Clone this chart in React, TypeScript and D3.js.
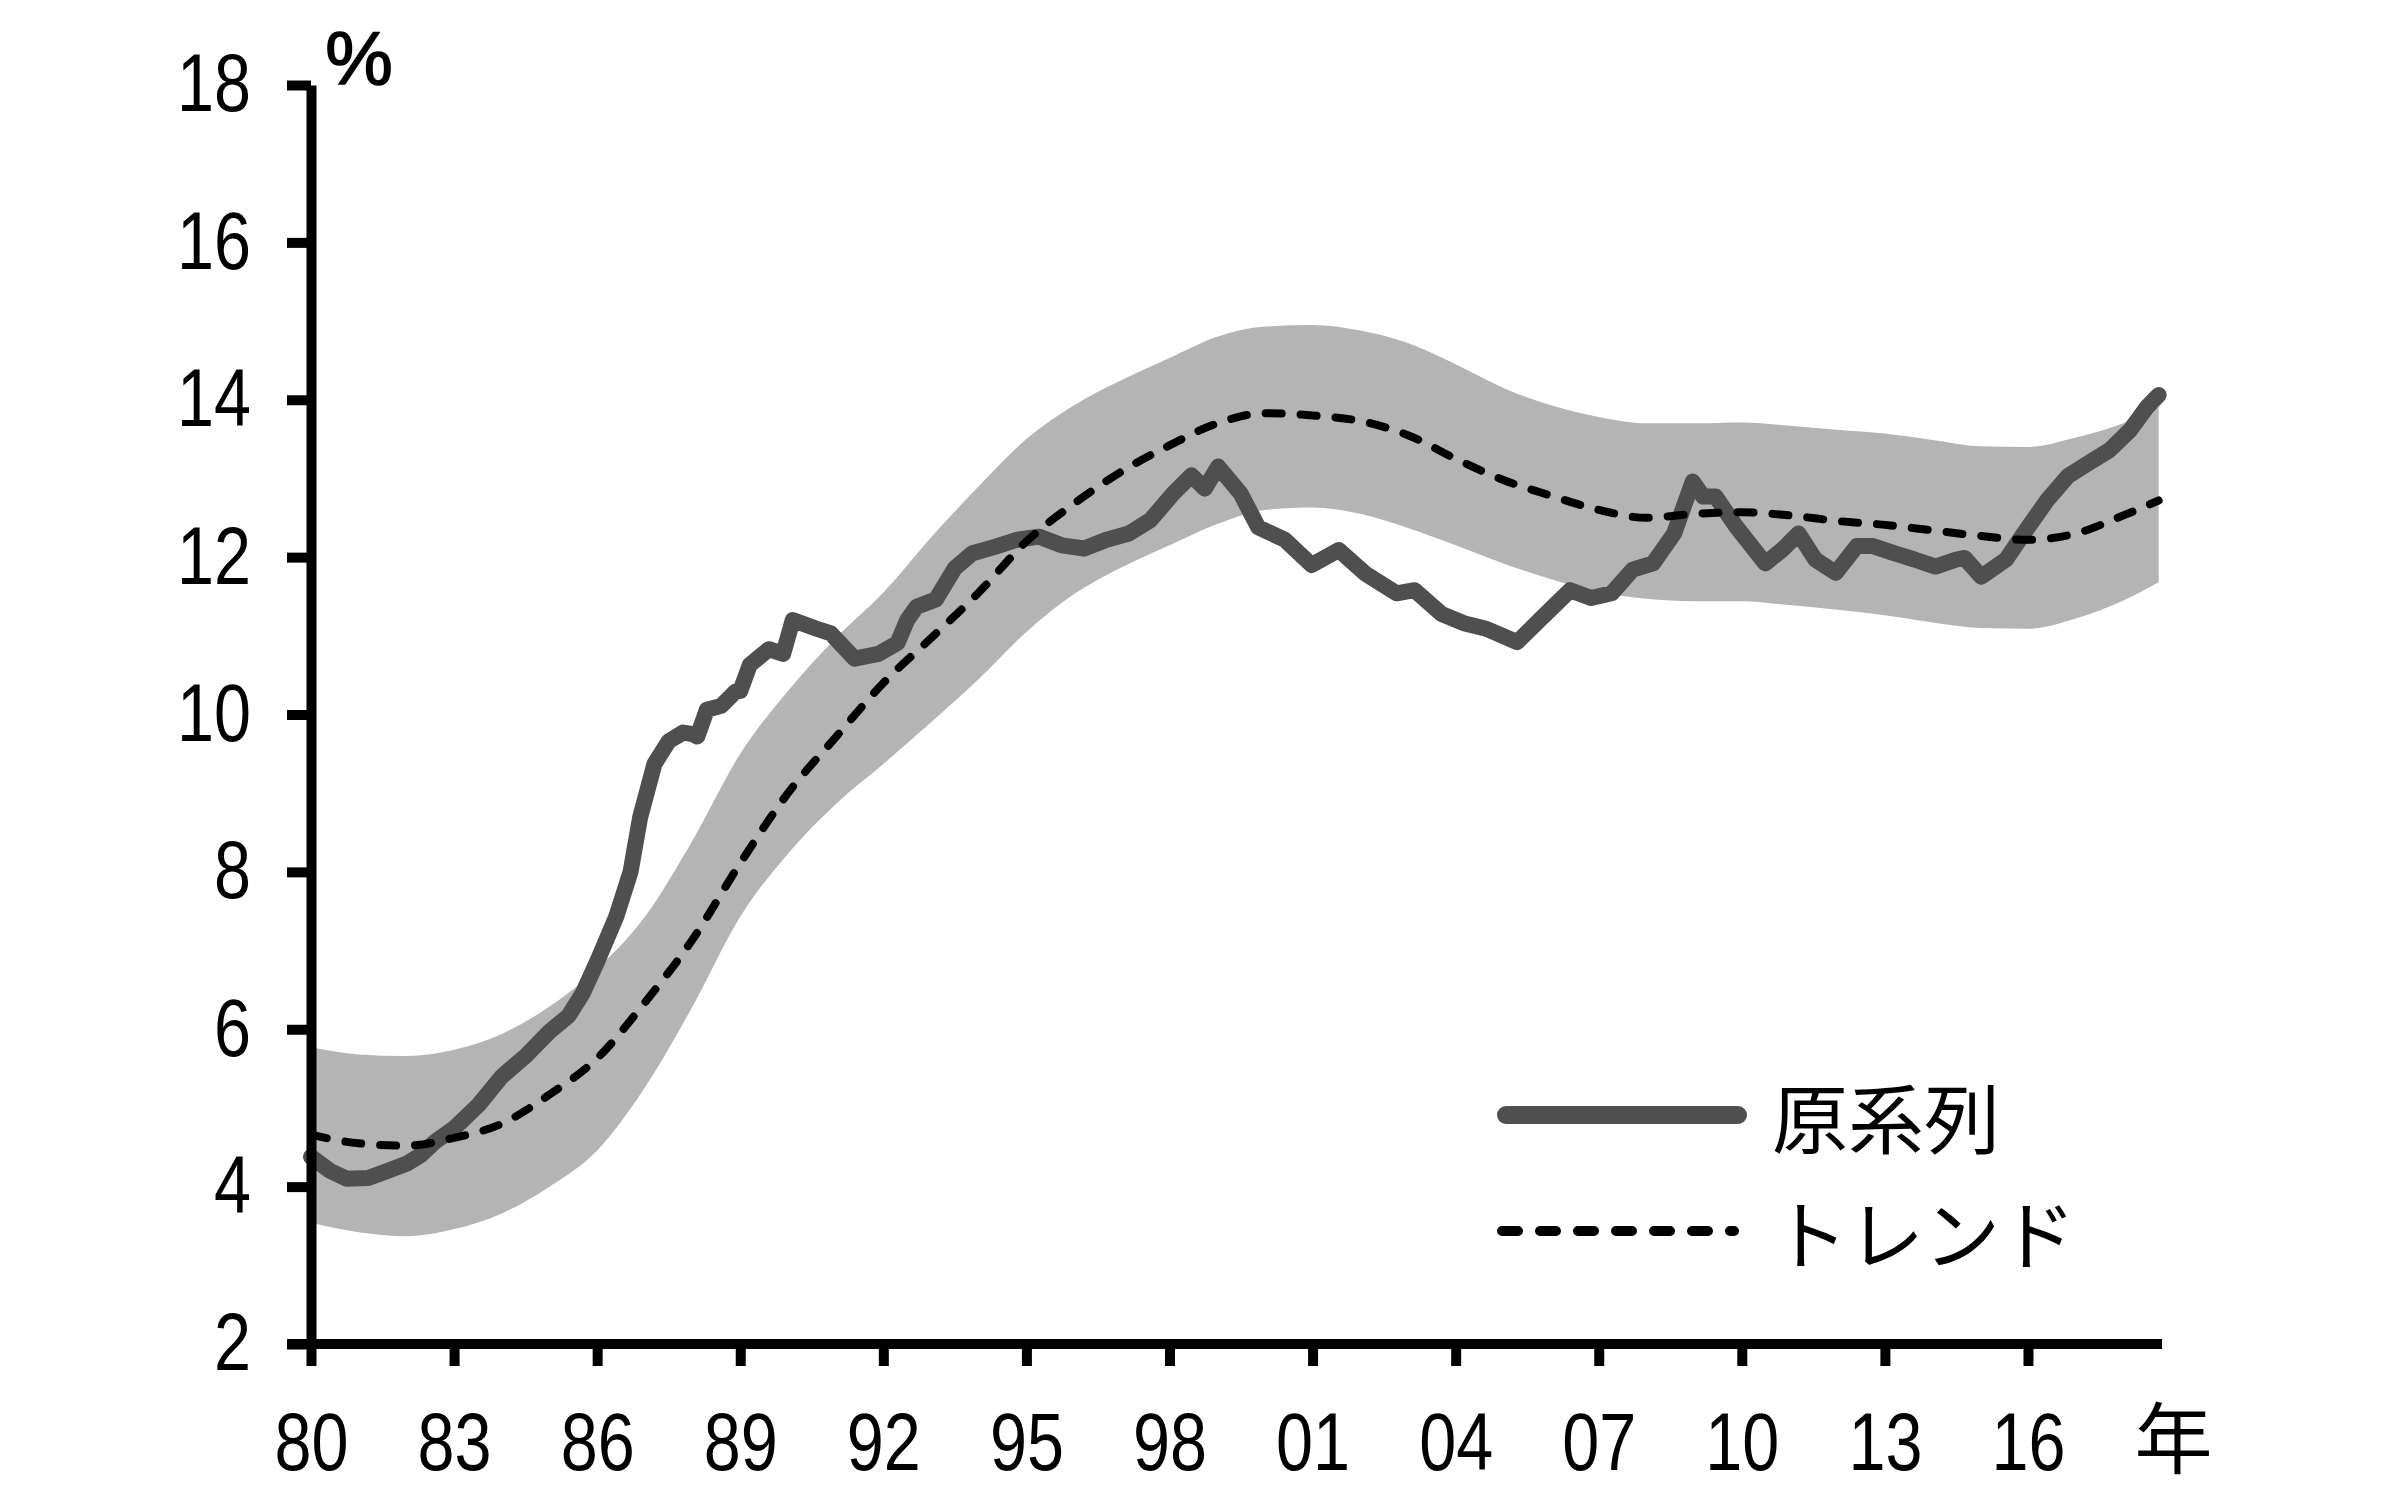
import React, { useRef, useEffect } from 'react';
import * as d3 from 'd3';

// 原系列 (raw series)
const rawYears = [
  1980.0, 1980.4, 1980.75, 1981.2, 1981.6, 1982.0, 1982.3, 1982.6, 1983.0, 1983.5,
  1984.0, 1984.5, 1985.0, 1985.4, 1985.7, 1986.0, 1986.4, 1986.7, 1986.9, 1987.2,
  1987.5, 1987.8, 1988.0, 1988.1, 1988.3, 1988.6, 1988.9, 1989.0, 1989.2, 1989.6,
  1989.9, 1990.1, 1990.6, 1990.9, 1991.4, 1991.9, 1992.3, 1992.5, 1992.7, 1993.1,
  1993.5, 1993.87, 1994.34, 1994.8, 1995.27, 1995.74, 1996.21, 1996.68, 1997.15, 1997.6,
  1998.08, 1998.46, 1998.74, 1999.02, 1999.49, 1999.86, 2000.42, 2000.98, 2001.55, 2002.11,
  2002.76, 2003.14, 2003.7, 2004.17, 2004.64, 2005.29, 2005.76, 2006.4, 2006.84, 2007.27,
  2007.71, 2008.14, 2008.58, 2008.97, 2009.19, 2009.45, 2009.88, 2010.49, 2010.84, 2011.19,
  2011.54, 2011.97, 2012.41, 2012.75, 2013.19, 2013.62, 2014.06, 2014.5, 2014.67, 2015.02,
  2015.54, 2015.97, 2016.41, 2016.84, 2017.28, 2017.71, 2018.15, 2018.5, 2018.74,
];
const rawValues = [
  4.38, 4.2, 4.1, 4.11, 4.2, 4.29, 4.4, 4.57, 4.74, 5.03,
  5.4, 5.66, 5.97, 6.17, 6.46, 6.86, 7.43, 8.0, 8.69, 9.37,
  9.66, 9.77, 9.75, 9.72, 10.06, 10.11, 10.29, 10.3, 10.63, 10.83,
  10.77, 11.2, 11.09, 11.03, 10.71, 10.77, 10.91, 11.2, 11.37, 11.46,
  11.86, 12.05, 12.13, 12.22, 12.26, 12.15, 12.11, 12.22, 12.3, 12.47,
  12.81, 13.04, 12.87, 13.15, 12.81, 12.38, 12.22, 11.9, 12.09, 11.79,
  11.54, 11.58, 11.28, 11.16, 11.09, 10.92, 11.2, 11.58, 11.48, 11.54,
  11.84, 11.92, 12.3, 12.96, 12.77, 12.77, 12.39, 11.92, 12.09, 12.3,
  11.97, 11.8, 12.14, 12.14, 12.05, 11.97, 11.88, 11.97, 11.99, 11.75,
  11.97, 12.35, 12.73, 13.03, 13.2, 13.36, 13.62, 13.91, 14.06,
];

// トレンド and its shaded band
const trendYears = [
  1980, 1981, 1982, 1983, 1984, 1985, 1986, 1987, 1988, 1989,
  1990, 1991, 1992, 1993, 1994, 1995, 1996, 1997, 1998, 1999,
  2000, 2001, 2002, 2003, 2004, 2005, 2006, 2007, 2008, 2009,
  2010, 2011, 2012, 2013, 2014, 2015, 2016, 2017, 2018, 2018.74,
];
const trendValues = [
  4.66, 4.55, 4.52, 4.62, 4.8, 5.17, 5.63, 6.34, 7.14, 8.11,
  9.0, 9.71, 10.4, 10.97, 11.55, 12.2, 12.68, 13.09, 13.42, 13.7,
  13.83, 13.8, 13.73, 13.55, 13.25, 12.98, 12.78, 12.6, 12.5, 12.55,
  12.57, 12.53, 12.46, 12.41, 12.34, 12.27, 12.22, 12.3, 12.53, 12.72,
];
const bandUpper = [
  5.77, 5.68, 5.66, 5.74, 5.94, 6.29, 6.77, 7.43, 8.4, 9.5,
  10.3, 10.97, 11.55, 12.25, 12.9, 13.5, 13.93, 14.25, 14.53, 14.8,
  14.93, 14.95, 14.88, 14.72, 14.45, 14.15, 13.93, 13.78, 13.7, 13.7,
  13.71, 13.67, 13.62, 13.57, 13.49, 13.41, 13.4, 13.52, 13.7, 13.9,
];
const bandLower = [
  3.54, 3.42, 3.37, 3.46, 3.66, 4.0, 4.46, 5.26, 6.29, 7.43,
  8.23, 8.86, 9.37, 9.9, 10.45, 11.05, 11.53, 11.87, 12.15, 12.42,
  12.6, 12.63, 12.55, 12.37, 12.15, 11.92, 11.72, 11.56, 11.47, 11.44,
  11.44, 11.39, 11.33, 11.26, 11.17, 11.1, 11.09, 11.22, 11.45, 11.68,
];

const xTickYears = [1980, 1983, 1986, 1989, 1992, 1995, 1998, 2001, 2004, 2007, 2010, 2013, 2016];
const xTickLabels = ['80', '83', '86', '89', '92', '95', '98', '01', '04', '07', '10', '13', '16'];
const yTicks = [2, 4, 6, 8, 10, 12, 14, 16, 18];

const legendItems = ['原系列', 'トレンド'];

const numFont = '"Liberation Sans", Arial, sans-serif';
const jpFont = '"Noto Sans CJK JP", "Noto Sans", sans-serif';
const digitWidth = 37; // the original digits are condensed

const Chart: React.FC = () => {
  const svgRef = useRef<SVGSVGElement | null>(null);

  useEffect(() => {
    if (!svgRef.current) return;
    const svg = d3.select(svgRef.current);
    svg.selectAll('*').remove();

    const width = 2408;
    const height = 1512;
    const margin = { top: 85, right: 246, bottom: 168, left: 311 };

    const x = d3.scaleLinear()
      .domain([1980, 2018.81])
      .range([margin.left, width - margin.right]);
    const y = d3.scaleLinear()
      .domain([2, 18])
      .range([height - margin.bottom, margin.top]);

    const band = d3.area<number>()
      .x((_, i) => x(trendYears[i]))
      .y0((_, i) => y(bandLower[i]))
      .y1((_, i) => y(bandUpper[i]))
      .curve(d3.curveMonotoneX);

    svg.append('path')
      .datum(trendYears)
      .attr('fill', '#b4b4b4')
      .attr('d', band);

    const rawLine = d3.line<number>()
      .x((_, i) => x(rawYears[i]))
      .y(d => y(d));

    svg.append('path')
      .datum(rawValues)
      .attr('fill', 'none')
      .attr('stroke', '#4f4f4f')
      .attr('stroke-width', 16)
      .attr('stroke-linejoin', 'round')
      .attr('stroke-linecap', 'round')
      .attr('d', rawLine);

    const trendLine = d3.line<number>()
      .x((_, i) => x(trendYears[i]))
      .y(d => y(d))
      .curve(d3.curveMonotoneX);

    svg.append('path')
      .datum(trendValues)
      .attr('fill', 'none')
      .attr('stroke', '#000')
      .attr('stroke-width', 8)
      .attr('stroke-linecap', 'round')
      .attr('stroke-dasharray', '16 19')
      .attr('d', trendLine);

    // y axis
    const yAxis = svg.append('g')
      .attr('transform', `translate(${margin.left},0)`)
      .call(d3.axisLeft(y).tickValues(yTicks).tickSize(24).tickSizeOuter(0).tickPadding(36));
    yAxis.selectAll('path, line').attr('stroke', '#000').attr('stroke-width', 10);
    yAxis.selectAll<SVGTextElement, number>('text')
      .attr('fill', '#000')
      .attr('textLength', d => String(d).length * digitWidth)
      .attr('lengthAdjust', 'spacingAndGlyphs')
      .style('font-family', numFont)
      .style('font-size', '81px');

    // x axis
    const xAxis = svg.append('g')
      .attr('transform', `translate(0,${height - margin.bottom})`)
      .call(d3.axisBottom(x)
        .tickValues(xTickYears)
        .tickFormat((_, i) => xTickLabels[i])
        .tickSize(22)
        .tickSizeOuter(0));
    xAxis.select('.domain')
      .attr('d', `M${margin.left - 24},0H${width - margin.right}`);
    xAxis.selectAll('path, line').attr('stroke', '#000').attr('stroke-width', 10);
    xAxis.selectAll('text')
      .attr('fill', '#000')
      .attr('dy', null)
      .attr('y', 126)
      .attr('textLength', 2 * digitWidth)
      .attr('lengthAdjust', 'spacingAndGlyphs')
      .style('font-family', numFont)
      .style('font-size', '81px');

    svg.append('text')
      .attr('x', x(2019.05))
      .attr('y', height - margin.bottom + 124)
      .attr('text-anchor', 'middle')
      .style('font-family', jpFont)
      .style('font-size', '78px')
      .text('年');

    svg.append('text')
      .attr('x', margin.left + 48)
      .attr('y', 84)
      .attr('text-anchor', 'middle')
      .attr('stroke', '#000')
      .attr('stroke-width', 1.5)
      .style('font-family', numFont)
      .style('font-size', '76px')
      .text('%');

    // legend
    const legend = svg.append('g');
    const legendY = [1115, 1231];
    legend.append('line')
      .attr('x1', 1506).attr('x2', 1738)
      .attr('y1', legendY[0]).attr('y2', legendY[0])
      .attr('stroke', '#4f4f4f')
      .attr('stroke-width', 18)
      .attr('stroke-linecap', 'round');
    legend.append('line')
      .attr('x1', 1502).attr('x2', 1734)
      .attr('y1', legendY[1]).attr('y2', legendY[1])
      .attr('stroke', '#000')
      .attr('stroke-width', 10)
      .attr('stroke-linecap', 'round')
      .attr('stroke-dasharray', '16 22');
    legend.selectAll('text.item')
      .data(legendItems)
      .join('text')
      .attr('class', 'item')
      .attr('x', 1772)
      .attr('y', (_, i) => legendY[i])
      .attr('dominant-baseline', 'central')
      .style('font-family', jpFont)
      .style('font-size', '76px')
      .text(d => d);
  }, []);

  return <svg ref={svgRef} width={2408} height={1512} style={{ display: 'block', background: '#fff' }}></svg>;
};

export default function App() {
  return (
    <div style={{ position: 'absolute', left: 0, top: 0 }}>
      <Chart />
    </div>
  );
}
